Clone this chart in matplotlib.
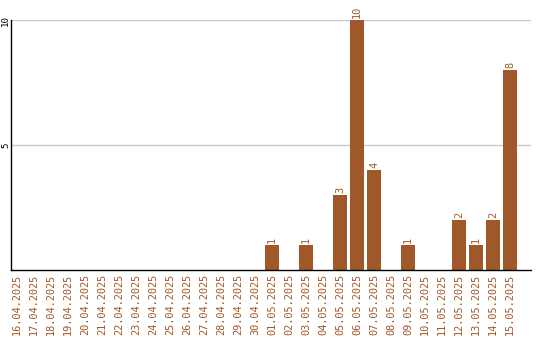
import matplotlib
matplotlib.use("Agg")
import matplotlib.pyplot as plt

dates = ["16.04.2025", "17.04.2025", "18.04.2025", "19.04.2025", "20.04.2025",
         "21.04.2025", "22.04.2025", "23.04.2025", "24.04.2025", "25.04.2025",
         "26.04.2025", "27.04.2025", "28.04.2025", "29.04.2025", "30.04.2025",
         "01.05.2025", "02.05.2025", "03.05.2025", "04.05.2025", "05.05.2025",
         "06.05.2025", "07.05.2025", "08.05.2025", "09.05.2025", "10.05.2025",
         "11.05.2025", "12.05.2025", "13.05.2025", "14.05.2025", "15.05.2025"]
counts = [0, 0, 0, 0, 0, 0, 0, 0, 0, 0,
          0, 0, 0, 0, 0, 1, 0, 1, 0, 3,
          10, 4, 0, 1, 0, 0, 2, 1, 2, 8]
y_ticks = [5, 10]

bar_color = "#A0582A"
font = "DejaVu Sans Mono"
fs = 7.4

W, H = 540, 340
fig = plt.figure(figsize=(W / 100, H / 100), dpi=100)
ax = fig.add_axes([11 / W, (H - 270) / H, (531 - 11) / W, 250 / H])

x = list(range(len(dates)))
ax.bar(x, counts, width=0.82, color=bar_color, zorder=3)

for xi, v in zip(x, counts):
    if v > 0:
        ax.text(xi, v + 0.08, str(v), rotation=90, ha="center", va="bottom",
                color=bar_color, fontsize=fs, family=font, clip_on=False)

ax.set_xlim(-0.353, 30.24)
ax.set_ylim(0, 10)

ax.set_yticks(y_ticks)
ax.set_yticklabels([str(t) for t in y_ticks], rotation=90, va="center",
                   ha="center", family=font, fontsize=6.6, color="black")
ax.grid(axis="y", color="#c8c8c8", linewidth=1, zorder=0)

ax.set_xticks(x)
ax.set_xticklabels(dates, rotation=90, family=font, fontsize=fs,
                   color=bar_color, va="top", ha="center")
ax.tick_params(axis="both", length=0)
ax.tick_params(axis="x", pad=3)
ax.tick_params(axis="y", pad=4)

for side in ("top", "right"):
    ax.spines[side].set_visible(False)
for side in ("left", "bottom"):
    ax.spines[side].set_color("black")
    ax.spines[side].set_linewidth(1.0)
    ax.spines[side].set_zorder(4)

fig.savefig("out.png", dpi=100)
